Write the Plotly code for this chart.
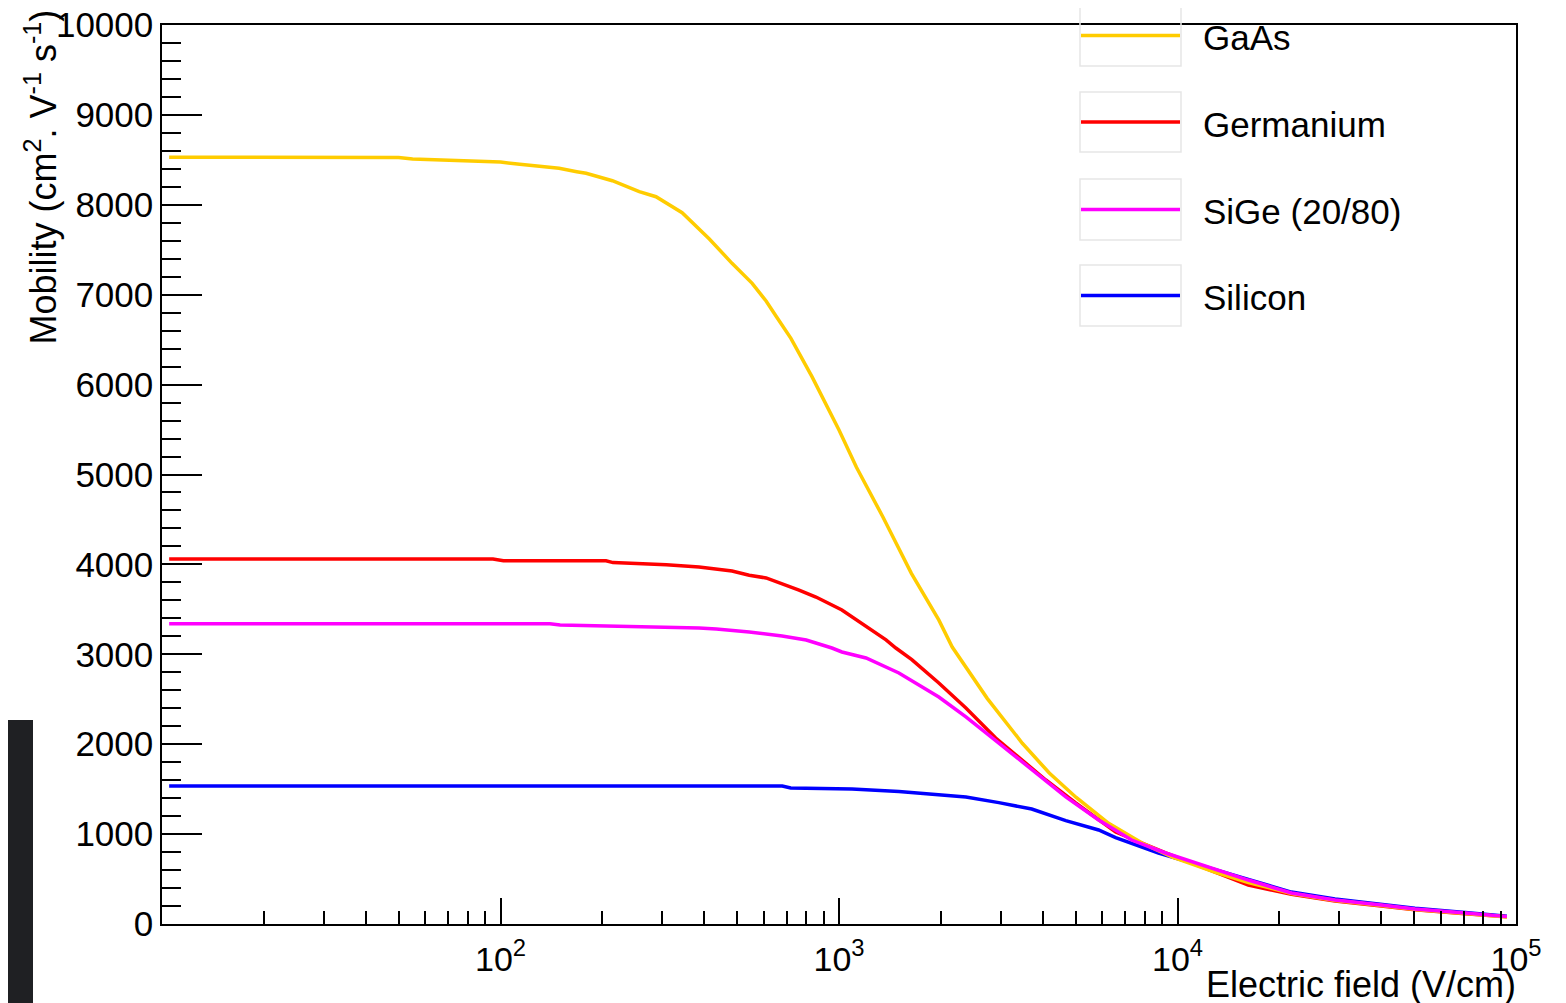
import plotly.graph_objects as go

# ---------------- data ----------------
names = ["GaAs", "Germanium", "SiGe (20/80)", "Silicon"]
colors = ["#FFCC00", "#FF0000", "#FF00FF", "#0000FF"]

gaas_E = [10.5, 50, 55, 100, 114, 149, 168, 179, 214, 257, 288, 344, 414, 483, 554, 609, 652,
          721, 832, 1000, 1126, 1347, 1636, 1973, 2160, 2740, 3480, 4180, 5010, 6260, 7860,
          9660, 12940, 16190, 21700, 29200, 40000, 50300, 70800, 94000]
gaas_mu = [8530, 8525, 8510, 8476, 8450, 8406, 8368, 8350, 8268, 8146, 8090, 7912, 7620, 7349, 7126,
           6930, 6760, 6515, 6088, 5495, 5080, 4530, 3900, 3380, 3080, 2510, 2010, 1680, 1410,
           1120, 900, 745, 575, 462, 340, 262, 206, 162, 118, 78]

ge_E = [10.5, 95, 102, 205, 215, 275, 309, 386, 483, 543, 609, 762, 855, 1020, 1202, 1377,
        1472, 1641, 1972, 2213, 2371, 2904, 3467, 4083, 5003, 6565, 9225, 16190,
        21700, 29200, 40000, 50300, 70800, 94000]
ge_mu = [4060, 4060, 4040, 4040, 4020, 4005, 3995, 3971, 3926, 3880, 3849, 3715, 3637, 3493, 3310, 3160,
         3070, 2940, 2681, 2514, 2403, 2069, 1824, 1602, 1346, 1023, 790, 434,
         330, 255, 200, 158, 115, 80]

sige_E = [10.5, 140, 150, 309, 386, 434, 543, 679, 800, 953, 1020, 1202, 1503, 1972, 2371,
          2966, 3710, 4677, 5848, 7318, 9225, 16190, 21700, 29200, 40000, 50300, 70800, 94000]
sige_mu = [3340, 3340, 3326, 3304, 3293, 3281, 3248, 3204, 3159, 3070, 3026, 2959, 2792, 2525, 2303,
           2013, 1713, 1413, 1157, 934, 790, 489, 345, 268, 212, 167, 122, 82]

si_E = [10.5, 680, 720, 1092, 1503, 1879, 2371, 2966, 3710, 4677, 5848, 6565, 8790, 16190,
        21700, 29200, 40000, 50300, 70800, 94000]
si_mu = [1535, 1535, 1513, 1502, 1475, 1446, 1413, 1350, 1279, 1150, 1046, 960, 790, 495,
         355, 278, 220, 176, 128, 85]

x_tickvals = [100, 1000, 10000, 100000]
x_ticktext = ["10<sup>2</sup>", "10<sup>3</sup>", "10<sup>4</sup>", "10<sup>5</sup>"]
x_minor = [m * 10 ** d for d in range(1, 5) for m in range(2, 10)]
y_tickvals = list(range(0, 10001, 1000))
y_ticktext = [str(v) for v in y_tickvals]

series = {
    "GaAs": (gaas_E, gaas_mu),
    "Germanium": (ge_E, ge_mu),
    "SiGe (20/80)": (sige_E, sige_mu),
    "Silicon": (si_E, si_mu),
}

# ---------------- layout geometry (page pixels) ----------------
PAGE_OFF = 8            # default body margin of the html page
W, H = 1566 - PAGE_OFF, 1003 - PAGE_OFF
L, R, T, B = 162, 1516, 25, 924   # plot frame in page pixels
pw, ph = R - L, B - T


def px(x):
    return (x - L) / pw


def py(y):
    return (B - y) / ph


FONT = "Liberation Sans, Arial, Helvetica, sans-serif"

fig = go.Figure()
draw_order = ["Silicon", "Germanium", "GaAs", "SiGe (20/80)"]
for nm in draw_order:
    xs, ys = series[nm]
    fig.add_trace(go.Scatter(x=xs, y=ys, mode="lines", name=nm,
                             line=dict(color=colors[names.index(nm)], width=3.5),
                             showlegend=False, hoverinfo="skip"))

shapes = []
annotations = []

# dark screenshot artifact at bottom-left
shapes.append(dict(type="rect", xref="paper", yref="paper",
                   x0=px(-20), x1=px(33), y0=py(720), y1=py(1020),
                   fillcolor="#1f2023", line=dict(width=0), layer="above"))

# manual legend with boxes
leg_boxes = [(5, 66), (92, 152), (179, 240), (265, 326)]
for nm, col, (y0, y1) in zip(names, colors, leg_boxes):
    yc = (y0 + y1) / 2
    shapes.append(dict(type="rect", xref="paper", yref="paper",
                       x0=px(1080), x1=px(1181), y0=py(y1), y1=py(y0),
                       fillcolor="rgba(255,255,255,0)", line=dict(color="#e6e6e6", width=1.5),
                       layer="above"))
    shapes.append(dict(type="line", xref="paper", yref="paper",
                       x0=px(1081), x1=px(1180), y0=py(yc), y1=py(yc),
                       line=dict(color=col, width=3.5), layer="above"))
    annotations.append(dict(xref="paper", yref="paper", x=px(1201), y=py(yc + 2),
                            xanchor="left", yanchor="middle", showarrow=False,
                            text=nm, font=dict(family=FONT, size=35, color="black")))

# axis titles (ROOT style, right/top aligned)
annotations.append(dict(xref="paper", yref="paper", x=px(41), y=py(8),
                        xanchor="center", yanchor="top", textangle=-90, showarrow=False,
                        text="Mobility (cm<sup>2</sup>. V<sup>-1</sup> s<sup>-1</sup>)",
                        font=dict(family=FONT, size=36, color="black")))
annotations.append(dict(xref="paper", yref="paper", x=px(1518), y=py(984),
                        xanchor="right", yanchor="middle", showarrow=False,
                        text="Electric field (V/cm)",
                        font=dict(family=FONT, size=36, color="black")))

fig.update_layout(
    width=W, height=H,
    margin=dict(l=L - PAGE_OFF, r=W - (R - PAGE_OFF), t=T - PAGE_OFF, b=H - (B - PAGE_OFF),
                autoexpand=False),
    paper_bgcolor="white", plot_bgcolor="white",
    font=dict(family=FONT, size=35, color="black"),
    shapes=shapes, annotations=annotations,
    showlegend=False,
)

fig.update_xaxes(type="log", range=[1, 5], showgrid=False, zeroline=False, automargin=False,
                 showline=True, linecolor="black", linewidth=1.5, mirror=True,
                 tickmode="array", tickvals=x_tickvals, ticktext=x_ticktext,
                 ticks="inside", ticklen=26, tickwidth=1.5, tickcolor="black",
                 ticklabelstandoff=4, ticklabeloverflow="allow",
                 minor=dict(tickmode="array", tickvals=x_minor, ticks="inside",
                            ticklen=13, tickwidth=1.5, tickcolor="black", showgrid=False),
                 tickfont=dict(family=FONT, size=34))

fig.update_yaxes(range=[0, 10000], showgrid=False, zeroline=False, automargin=False,
                 showline=True, linecolor="black", linewidth=1.5, mirror=True,
                 tickmode="array", tickvals=y_tickvals, ticktext=y_ticktext,
                 ticks="inside", ticklen=40, tickwidth=1.5, tickcolor="black",
                 ticklabelstandoff=0, ticklabeloverflow="allow",
                 minor=dict(dtick=200, ticks="inside", ticklen=19, tickwidth=1.5,
                            tickcolor="black", showgrid=False),
                 tickfont=dict(family=FONT, size=35))

fig.write_html("out.html")
